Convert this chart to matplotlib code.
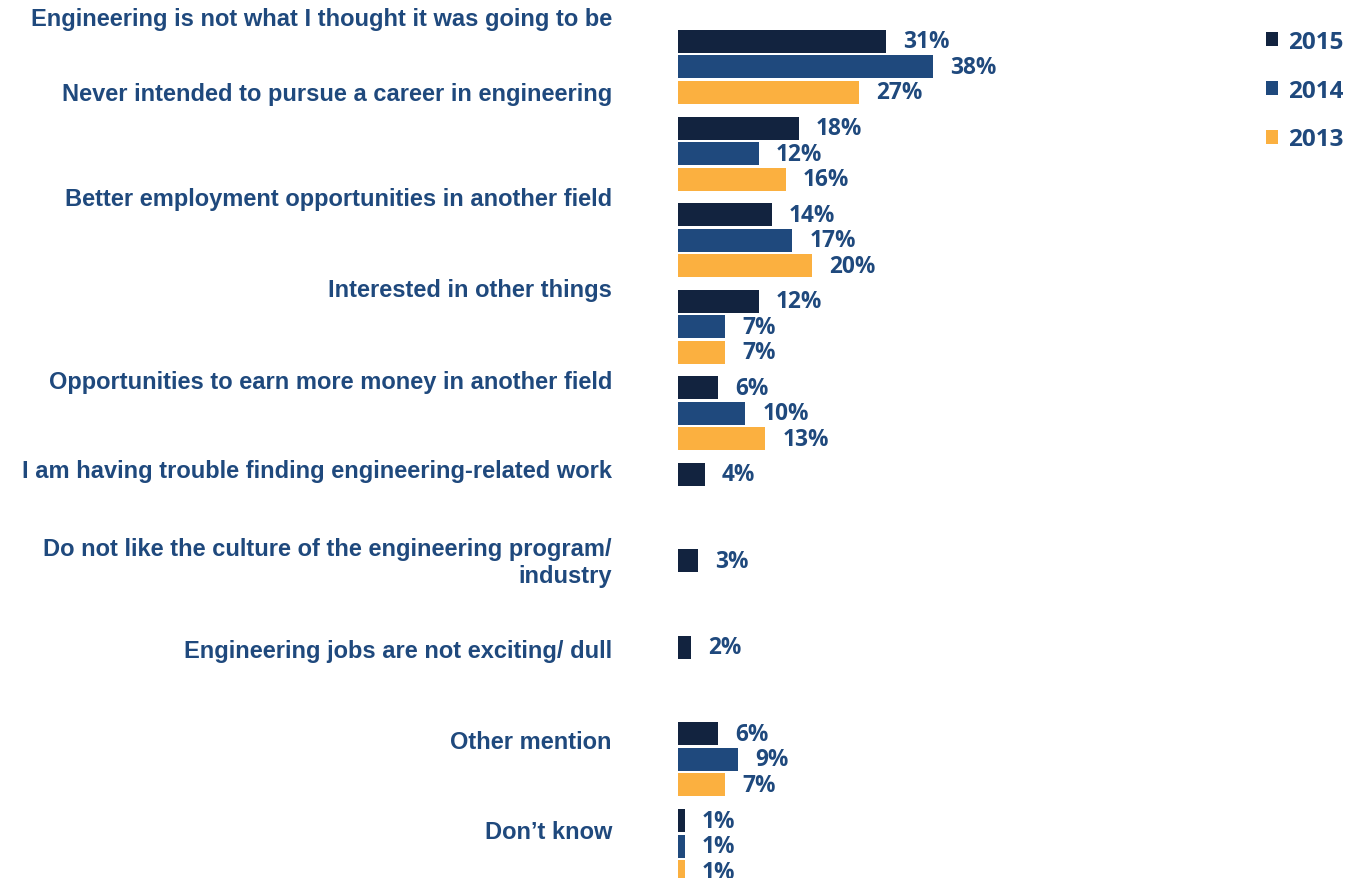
import numpy as np
import matplotlib
matplotlib.use("Agg")
import matplotlib.pyplot as plt

# data
categories = [
    "Engineering is not what I thought it was going to be",
    "Never intended to pursue a career in engineering",
    "Better employment opportunities in another field",
    "Interested in other things",
    "Opportunities to earn more money in another field",
    "I am having trouble finding engineering-related work",
    "Do not like the culture of the engineering program/\nindustry",
    "Engineering jobs are not exciting/ dull",
    "Other mention",
    "Don\u2019t know",
]
years = ["2015", "2014", "2013"]
v2015 = [31, 18, 14, 12, 6, 4, 3, 2, 6, 1]
v2014 = [38, 12, 17, 7, 10, np.nan, np.nan, np.nan, 9, 1]
v2013 = [27, 16, 20, 7, 13, np.nan, np.nan, np.nan, 7, 1]

colors = ["#12233f", "#1f497d", "#fbb040"]
text_col = "#1f497d"

# label offsets (in group units): the category labels sit above their bar groups
label_shift = [-0.555, -0.69, -0.475, -0.424, -0.372, -0.333, -0.282, -0.253, -0.202, -0.162]

fig = plt.figure(figsize=(13.5, 8.79), dpi=100)
# x=0 at pixel 678, group 0 centre at pixel 68, group pitch ~86.6 px
ax = fig.add_axes([678 / 1350, 0, 1 - 678 / 1350, 1])
px_per_pct = 6.72
ax.set_xlim(0, (1350 - 678) / px_per_pct)
pitch = 86.56
ax.set_ylim(9 + (879 - 847) / pitch, -68 / pitch)
ax.axis("off")

y = np.arange(len(categories))
off = 25.5 / pitch
h = 23 / pitch
series = [v2015, v2014, v2013]
for i, (vals, c, yr) in enumerate(zip(series, colors, years)):
    ypos = y + (i - 1) * off
    ax.barh(ypos, vals, height=h, color=c, label=yr)
    for yy, v in zip(ypos, vals):
        if np.isnan(v):
            continue
        ax.text(v + 17 / px_per_pct, yy, f"{v:.0f}%", ha="left", va="center",
                fontsize=16.3, fontweight="bold", color=text_col, family="Open Sans")

# category labels, right aligned at pixel 612
for yy, lab, s in zip(y, categories, label_shift):
    ax.text(-(678 - 612) / px_per_pct, yy + s, lab, ha="right", va="center",
            fontsize=17, fontweight="bold", color=text_col,
            family="Liberation Sans", linespacing=1.22, clip_on=False)

leg = fig.legend(loc="upper left", bbox_to_anchor=(1244 / 1350, 1 - 9 / 879),
                 frameon=False, handlelength=0.5, handleheight=0.5,
                 handletextpad=0.42, labelspacing=1.02,
                 prop={"family": "Open Sans", "weight": "bold", "size": 17.5})
for t in leg.get_texts():
    t.set_color(text_col)

fig.savefig("out.png", dpi=100)
